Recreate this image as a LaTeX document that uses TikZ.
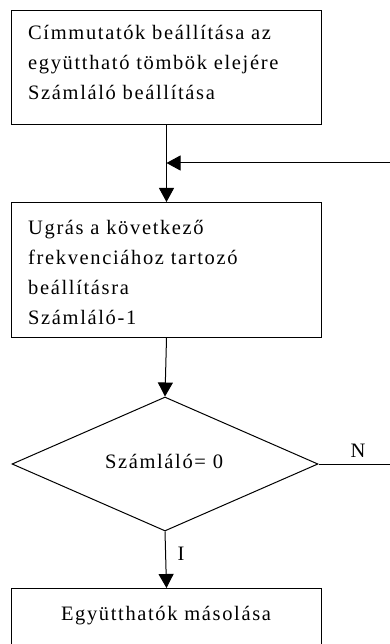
\documentclass[tikz,border=0pt]{standalone}
\usepackage{fontspec}
\setmainfont{Liberation Serif}[LetterSpace=8]
\usetikzlibrary{shapes.geometric,arrows.meta}
\begin{document}
\begin{tikzpicture}[x=1pt,y=-1pt,
  every node/.style={font=\fontsize{20.5pt}{30pt}\selectfont, inner sep=0pt},
  box/.style={draw, line width=1pt, minimum width=310pt, anchor=north west},
  txt/.style={align=left, anchor=base west},
  link/.style={line width=1pt},
  arr/.style={line width=1pt, -{Triangle[width=15pt,length=14pt]}}]

\useasboundingbox (0,0) rectangle (390,644);
\clip (0,0) rectangle (390,644);

% process boxes (text nodes are placed by the baseline of their last line)
\node[box, minimum height=114pt] (init) at (11,10) {};
\node[txt] (initT) at (28,100) {Címmutatók beállítása az\\együttható tömbök elejére\\Számláló beállítása};

\node[box, minimum height=135pt] (step) at (11,202) {};
\node[txt] (stepT) at (28,324) {Ugrás a következő\\frekvenciához tartozó\\beállításra\\Számláló-1};

% decision
\node[draw, diamond, line width=1pt, minimum width=306pt, minimum height=134pt] (test) at (165,464) {};
\node[anchor=base] (testT) at (164,468) {Számláló= 0};

% last box, running past the lower edge
\node[box, minimum height=100pt] (copy) at (11,588) {};
\node[anchor=base] (copyT) at (166,620) {Együtthatók másolása};

% connectors
\coordinate (join) at (init.south |- 0,163);
\coordinate (back) at (392,163);
\coordinate (exit) at (392,464);
\draw[arr] (init.south) -- (step.north);
\draw[arr] (back) -- (join);
\draw[arr] (step.south) -- (test.north);
\draw[arr] (test.south) -- (copy.north);
\draw[link] (test.east) -- (exit);

% branch labels
\node[anchor=base] (no) at (358,457) {N};
\node[anchor=base] (yes) at (181,560) {I};
\end{tikzpicture}
\end{document}
